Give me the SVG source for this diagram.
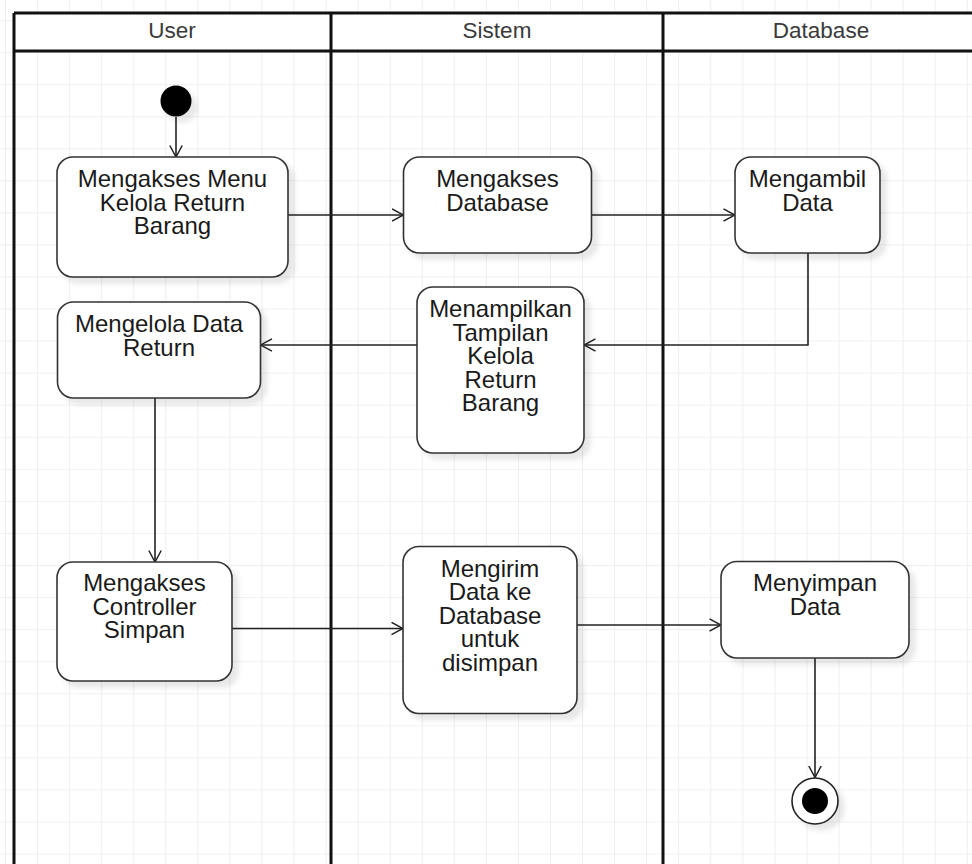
<svg xmlns="http://www.w3.org/2000/svg" width="972" height="864" viewBox="0 0 972 864">
<defs>
<pattern id="grid" x="5" y="20" width="32.06" height="32.06" patternUnits="userSpaceOnUse">
<path d="M0,0 H32.06 M0,0 V32.06" fill="none" stroke="#ebebeb" stroke-width="1.6"/>
</pattern>
<filter id="sh" x="-20%" y="-20%" width="150%" height="150%">
<feDropShadow dx="6" dy="6" stdDeviation="2.5" flood-color="#000" flood-opacity="0.09"/>
</filter>
<marker id="arr" viewBox="0 0 12 14" refX="12" refY="7" markerWidth="12" markerHeight="14" markerUnits="userSpaceOnUse" orient="auto">
<path d="M0.5,0.8 L12,7 L0.5,13.2" fill="none" stroke="#222" stroke-width="1.5"/>
</marker>
<style>
.node rect{fill:#fff;stroke:#333;stroke-width:1.6;filter:url(#sh)}
.node text{font-family:"Liberation Sans",Arial,sans-serif;font-size:24px;fill:#1a1a1a;text-anchor:middle}
.hdr{font-family:"Liberation Sans",Arial,sans-serif;font-size:22.5px;fill:#3a3a3a;text-anchor:middle}
.edge{fill:none;stroke:#222;stroke-width:1.6;marker-end:url(#arr)}
.lane{fill:none;stroke:#111;stroke-width:3}
</style>
</defs>
<rect x="0" y="0" width="972" height="864" fill="#fff"/>
<rect x="0" y="0" width="972" height="864" fill="url(#grid)"/>

<g id="pool">
<rect x="14" y="13" width="990" height="38" fill="#fff"/>
<path class="lane" d="M14,13 H1000 M14,51 H1000 M14,13 V870 M331,13 V870 M663,13 V870"/>
<text class="hdr" x="172" y="38">User</text>
<text class="hdr" x="497" y="38">Sistem</text>
<text class="hdr" x="821" y="38">Database</text>
</g>

<g id="connectors">
<path class="edge" d="M176,117 V157"/>
<path class="edge" d="M288,215 H403.5"/>
<path class="edge" d="M591.5,215 H735"/>
<path class="edge" d="M808,253 V345 H584"/>
<path class="edge" d="M417,345 H260.5"/>
<path class="edge" d="M155,398 V562"/>
<path class="edge" d="M232,628.5 H403"/>
<path class="edge" d="M577,625 H721"/>
<path class="edge" d="M815,658 V777.5"/>
</g>

<g id="start">
<circle cx="176" cy="101" r="15.5" fill="#000" filter="url(#sh)"/>
</g>

<g id="n1" class="node">
<rect x="57" y="157" width="231" height="120" rx="16"/>
<text x="172.5" y="187">Mengakses Menu</text>
<text x="172.5" y="210.5">Kelola Return</text>
<text x="172.5" y="234">Barang</text>
</g>

<g id="n2" class="node">
<rect x="403.5" y="157" width="188" height="96" rx="16"/>
<text x="497.5" y="187">Mengakses</text>
<text x="497.5" y="210.5">Database</text>
</g>

<g id="n3" class="node">
<rect x="735" y="157" width="145" height="96" rx="16"/>
<text x="807.5" y="187">Mengambil</text>
<text x="807.5" y="210.5">Data</text>
</g>

<g id="n4" class="node">
<rect x="417" y="287" width="167" height="166" rx="16"/>
<text x="500.5" y="317">Menampilkan</text>
<text x="500.5" y="340.5">Tampilan</text>
<text x="500.5" y="364">Kelola</text>
<text x="500.5" y="387.5">Return</text>
<text x="500.5" y="411">Barang</text>
</g>

<g id="n5" class="node">
<rect x="57.5" y="302" width="203" height="96" rx="16"/>
<text x="159" y="332">Mengelola Data</text>
<text x="159" y="355.5">Return</text>
</g>

<g id="n6" class="node">
<rect x="57" y="562" width="175" height="119" rx="16"/>
<text x="144.5" y="591">Mengakses</text>
<text x="144.5" y="614.5">Controller</text>
<text x="144.5" y="638">Simpan</text>
</g>

<g id="n7" class="node">
<rect x="403" y="546.5" width="174" height="167" rx="16"/>
<text x="490" y="576.5">Mengirim</text>
<text x="490" y="600">Data ke</text>
<text x="490" y="623.5">Database</text>
<text x="490" y="647">untuk</text>
<text x="490" y="670.5">disimpan</text>
</g>

<g id="n8" class="node">
<rect x="721" y="561.5" width="188" height="96.5" rx="16"/>
<text x="815" y="591">Menyimpan</text>
<text x="815" y="614.5">Data</text>
</g>

<g id="end">
<circle cx="815" cy="801" r="23" fill="#fff" stroke="#222" stroke-width="1.6" filter="url(#sh)"/>
<circle cx="815" cy="801" r="13" fill="#000"/>
</g>
</svg>
